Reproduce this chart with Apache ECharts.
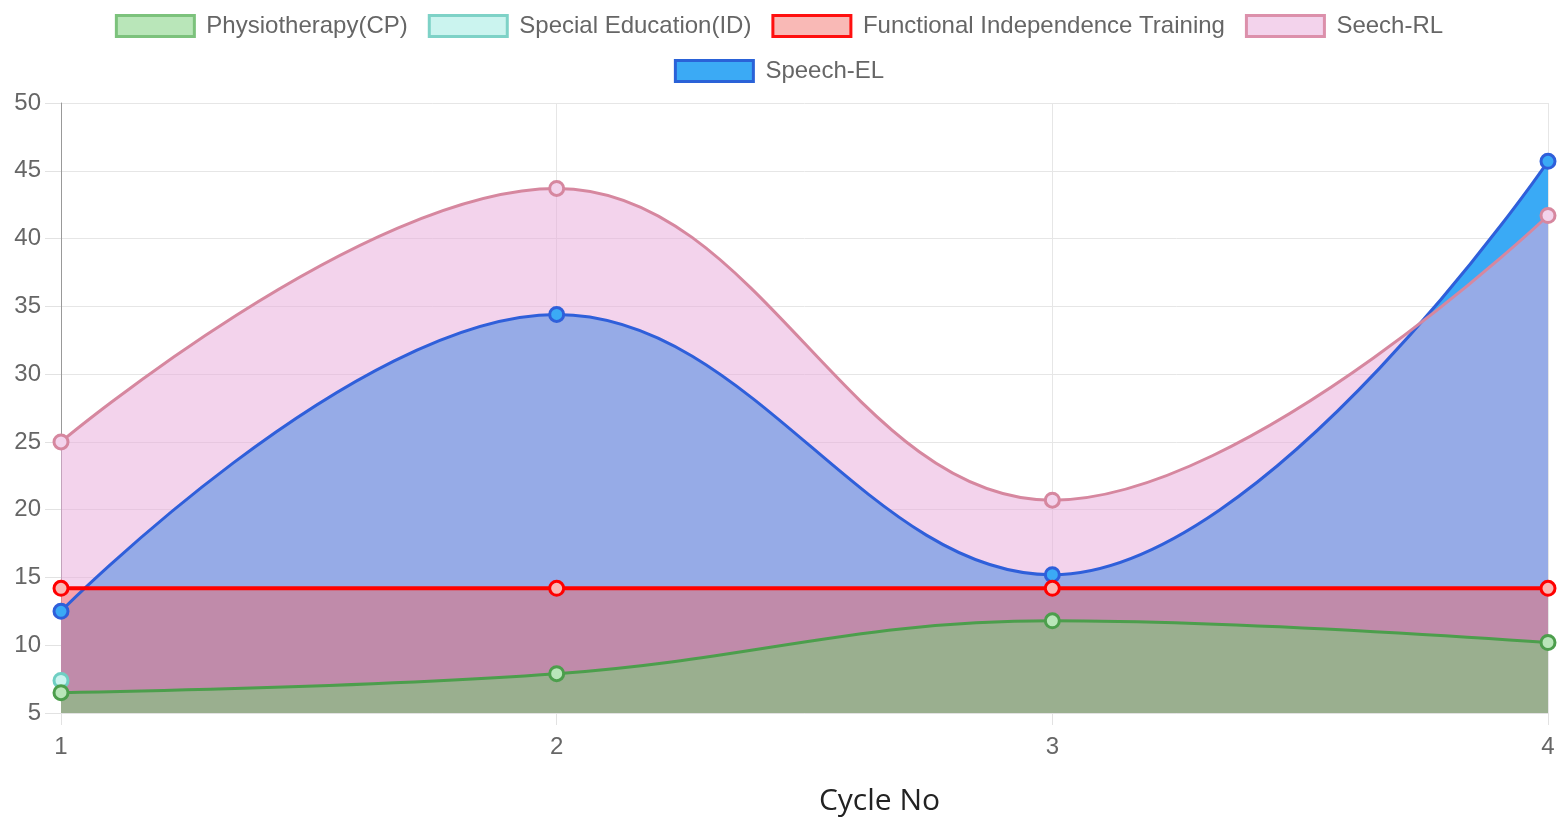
<!DOCTYPE html>
<html>
<head>
<meta charset="utf-8">
<script src="https://cdn.jsdelivr.net/npm/echarts@6/dist/echarts.min.js"></script>
<style>
html,body{margin:0;padding:0;background:#fff;}
#chart{width:1558px;height:824px;}
</style>
</head>
<body>
<div id="chart"></div>
<script>
const categories = ['1', '2', '3', '4'];
const physiotherapy = [6.5, 7.9, 11.8, 10.2];
const specialEducation = [7.4, null, null, null];
const functionalTraining = [14.2, 14.2, 14.2, 14.2];
const speechRL = [25, 43.7, 20.7, 41.7];
const speechEL = [12.5, 34.4, 15.2, 45.7];
const yTicks = { min: 5, max: 50, interval: 5 };

const LABEL_FONT = 'Liberation Sans, Arial, sans-serif';

const styles = {
  'Physiotherapy(CP)': { line: '#4C9E4C', fill: 'rgba(115,212,115,0.5)', point: '#B9E6B9', legendFill: '#B9E6B9', legendBorder: '#7CC27C', width: 3 },
  'Special Education(ID)': { line: '#6FCFC3', fill: 'rgba(150,235,225,0.45)', point: '#CBF4EF', legendFill: '#CBF4EF', legendBorder: '#7ED2C7', width: 3 },
  'Functional Independence Training': { line: '#FF0000', fill: 'rgba(255,92,80,0.4)', point: '#F9B9B6', legendFill: '#F9B9B6', legendBorder: '#FF1010', width: 4 },
  'Seech-RL': { line: '#D6879F', fill: 'rgba(232,172,219,0.53)', point: '#F3D3EC', legendFill: '#F3D3EC', legendBorder: '#DC90AB', width: 3 },
  'Speech-EL': { line: '#2F5FDA', fill: 'rgb(58,170,245)', point: '#3BAAF5', legendFill: '#3BAAF5', legendBorder: '#2A62D8', width: 3 }
};

// area layer (drawn below all lines)
function areaSeries(name, data, z) {
  const s = styles[name];
  return {
    name: name,
    type: 'line',
    data: data,
    smooth: 0.4,
    z: z,
    symbol: 'none',
    lineStyle: { width: 0, opacity: 0 },
    itemStyle: { color: s.point },
    areaStyle: { color: s.fill, origin: 'start', opacity: 1 },
    emphasis: { disabled: true },
    silent: true
  };
}
// line + point layer
function lineSeries(name, data, z) {
  const s = styles[name];
  return {
    name: name,
    type: 'line',
    data: data,
    smooth: 0.4,
    z: z,
    symbol: 'circle',
    symbolSize: 14,
    showAllSymbol: true,
    lineStyle: { color: s.line, width: s.width },
    itemStyle: { color: s.point, borderColor: s.line, borderWidth: 3 },
    emphasis: { disabled: true }
  };
}

function legendItem(name) {
  const s = styles[name];
  return { name: name, itemStyle: { color: s.legendFill, borderColor: s.legendBorder, borderWidth: 3 } };
}

const legendCommon = {
  left: 'center',
  icon: 'rect',
  itemWidth: 78,
  itemHeight: 21,
  itemGap: 20,
  selectedMode: false,
  textStyle: { fontSize: 24, color: '#666', fontFamily: LABEL_FONT, padding: [0, 0, 0, 7] }
};

const chart = echarts.init(document.getElementById('chart'));
chart.setOption({
  animation: false,
  backgroundColor: '#fff',
  legend: [
    Object.assign({}, legendCommon, {
      top: 9,
      data: ['Physiotherapy(CP)', 'Special Education(ID)', 'Functional Independence Training', 'Seech-RL'].map(legendItem)
    }),
    Object.assign({}, legendCommon, {
      top: 54,
      data: ['Speech-EL'].map(legendItem)
    })
  ],
  grid: { left: 61, right: 10, top: 103, bottom: 111, containLabel: false, outerBoundsMode: 'none' },
  xAxis: {
    type: 'category',
    data: categories,
    boundaryGap: false,
    name: 'Cycle No',
    nameLocation: 'middle',
    nameGap: 73,
    nameTextStyle: { fontSize: 30, color: '#222', fontFamily: 'Open Sans, sans-serif', padding: [0, 0, 0, 150] },
    axisLine: { show: true, lineStyle: { color: '#e2e2e2', width: 1 } },
    axisTick: { show: true, length: 12, lineStyle: { color: '#e2e2e2' } },
    axisLabel: { fontSize: 24, color: '#666', fontFamily: LABEL_FONT, margin: 22 },
    splitLine: { show: true, lineStyle: { color: '#e6e6e6', width: 1 } }
  },
  yAxis: {
    type: 'value',
    min: yTicks.min,
    max: yTicks.max,
    interval: yTicks.interval,
    axisLine: { show: true, lineStyle: { color: '#999', width: 1 } },
    axisTick: { show: true, length: 16, lineStyle: { color: '#e2e2e2' } },
    axisLabel: { fontSize: 24, color: '#666', fontFamily: LABEL_FONT, margin: 20 },
    splitLine: { show: true, lineStyle: { color: '#e6e6e6', width: 1 } }
  },
  series: [
    areaSeries('Speech-EL', speechEL, 2),
    areaSeries('Seech-RL', speechRL, 2),
    areaSeries('Functional Independence Training', functionalTraining, 2),
    areaSeries('Physiotherapy(CP)', physiotherapy, 2),
    lineSeries('Speech-EL', speechEL, 5),
    lineSeries('Seech-RL', speechRL, 5),
    lineSeries('Functional Independence Training', functionalTraining, 5),
    lineSeries('Special Education(ID)', specialEducation, 5),
    lineSeries('Physiotherapy(CP)', physiotherapy, 5)
  ]
});
</script>
</body>
</html>
